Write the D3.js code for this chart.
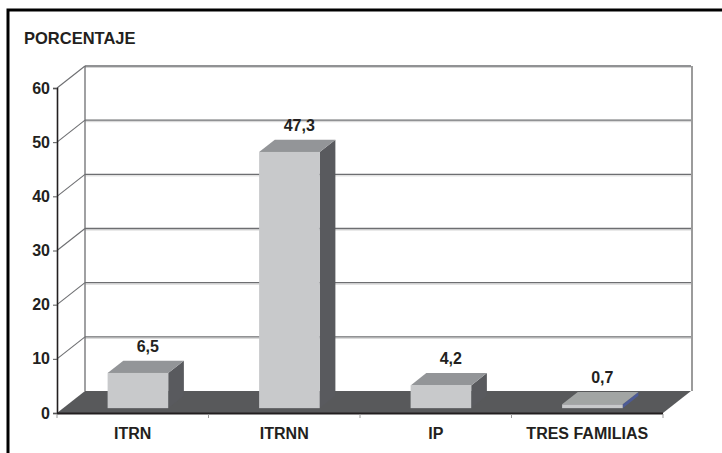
<!DOCTYPE html>
<html>
<head>
<meta charset="utf-8">
<script src="https://cdn.jsdelivr.net/npm/d3@7/dist/d3.min.js"></script>
<style>
  html, body { margin: 0; padding: 0; background: #ffffff; }
  svg { display: block; }
  text { font-family: "Liberation Sans", Arial, sans-serif; font-weight: bold; fill: #231f20; }
</style>
</head>
<body>
<svg id="chart" width="722" height="453"></svg>
<script>
// Chart data
const categories = ["ITRN", "ITRNN", "IP", "TRES FAMILIAS"];
const values = [6.5, 47.3, 4.2, 0.7];
const yTicks = [0, 10, 20, 30, 40, 50, 60];
const yTitle = "PORCENTAJE";

const svg = d3.select("#chart");
const fmt = v => v.toFixed(1).replace(".", ",");
const fontSize = 16;

// Front plane scales
const x = d3.scaleBand().domain(categories).range([57, 663]).paddingInner(0).paddingOuter(0);
const y = d3.scaleLinear().domain([0, 60]).range([413, 88]);

// 3D depth of the plot box and of the bars inside it
const depth = { dx: 28, dy: -22 };
const barFront = 0.22, barBack = 0.78;
const barWidth = x.bandwidth() * 0.4;

const colors = {
  front: "#c8c9cb", top: "#939598", side: "#595a5e", floor: "#58595b",
  grid: "#6d6e71", gridShade: "#d4d4d4"
};

// Outer frame
svg.append("rect")
  .attr("x", 8).attr("y", 10).attr("width", 800).attr("height", 500)
  .attr("fill", "none").attr("stroke", "#000").attr("stroke-width", 3);

// Axis title
svg.append("text").attr("x", 24).attr("y", 44)
  .attr("font-size", 16.5).text(yTitle);

const [x0, x1] = x.range();
const walls = svg.append("g");

// Gridlines on back wall and side wall
yTicks.filter(t => t > 0).forEach(t => {
  const yf = y(t), yb = y(t) + depth.dy;
  walls.append("line")
    .attr("x1", x0 + depth.dx).attr("x2", x1 + depth.dx)
    .attr("y1", yb + 1.5).attr("y2", yb + 1.5)
    .attr("stroke", colors.gridShade).attr("stroke-width", 1);
  walls.append("line")
    .attr("x1", x0 + depth.dx).attr("x2", x1 + depth.dx)
    .attr("y1", yb).attr("y2", yb)
    .attr("stroke", colors.grid).attr("stroke-width", 1.3);
  walls.append("line")
    .attr("x1", x0).attr("y1", yf)
    .attr("x2", x0 + depth.dx).attr("y2", yb)
    .attr("stroke", colors.grid).attr("stroke-width", 1.1);
});

// Back wall edges
walls.append("line")
  .attr("x1", x0 + depth.dx).attr("x2", x0 + depth.dx)
  .attr("y1", y(60) + depth.dy).attr("y2", y(0) + depth.dy)
  .attr("stroke", colors.grid).attr("stroke-width", 1.3);
walls.append("line")
  .attr("x1", x1 + depth.dx + 1).attr("x2", x1 + depth.dx + 1)
  .attr("y1", y(60) + depth.dy).attr("y2", y(0) + depth.dy)
  .attr("stroke", "#9b9b9b").attr("stroke-width", 2);

// Floor
const floorPts = [
  [x0, y(0)], [x1, y(0)],
  [x1 + depth.dx, y(0) + depth.dy], [x0 + depth.dx, y(0) + depth.dy]
];
svg.append("polygon")
  .attr("points", floorPts.map(p => p.join(",")).join(" "))
  .attr("fill", colors.floor);

// Bars
const bars = svg.append("g");
categories.forEach((c, i) => {
  const v = values[i];
  const fx = x(c) + (x.bandwidth() - barWidth) / 2 + depth.dx * barFront - 1;
  const fyTop = y(v) + depth.dy * barFront;
  const fyBot = y(0) + depth.dy * barFront;
  const ddx = depth.dx * (barBack - barFront), ddy = depth.dy * (barBack - barFront);
  const last = i === categories.length - 1;
  const sideColor = last ? "#4d5b96" : colors.side;
  const topColor = last ? "#a2a5a4" : colors.top;
  // right side
  bars.append("polygon")
    .attr("points", [
      [fx + barWidth, fyTop], [fx + barWidth + ddx, fyTop + ddy],
      [fx + barWidth + ddx, fyBot + ddy], [fx + barWidth, fyBot]
    ].map(p => p.join(",")).join(" "))
    .attr("fill", sideColor);
  // top
  bars.append("polygon")
    .attr("points", [
      [fx, fyTop], [fx + ddx, fyTop + ddy],
      [fx + barWidth + ddx, fyTop + ddy], [fx + barWidth, fyTop]
    ].map(p => p.join(",")).join(" "))
    .attr("fill", topColor);
  // front
  bars.append("rect")
    .attr("x", fx).attr("y", fyTop)
    .attr("width", barWidth).attr("height", fyBot - fyTop)
    .attr("fill", colors.front);
  // value label
  bars.append("text")
    .attr("x", fx + barWidth / 2 + ddx / 2 + 2)
    .attr("y", fyTop + ddy - 9)
    .attr("text-anchor", "middle")
    .attr("font-size", fontSize)
    .text(fmt(v));
});

// Left (value) axis
const yAxis = d3.axisLeft(y).tickValues(yTicks).tickSize(4).tickPadding(3);
const gy = svg.append("g").attr("transform", `translate(${x0},0)`).call(yAxis);
gy.select(".domain").attr("stroke", "#231f20").attr("stroke-width", 1.6);
gy.selectAll(".tick line").attr("stroke", "#555");
gy.selectAll(".tick text").attr("font-size", fontSize).attr("fill", "#231f20")
  .style("font-family", "'Liberation Sans', Arial, sans-serif").style("font-weight", "bold");

// Bottom (category) axis
const gx = svg.append("g");
gx.append("line")
  .attr("x1", x0).attr("x2", x1).attr("y1", y(0) + 0.5).attr("y2", y(0) + 0.5)
  .attr("stroke", "#231f20").attr("stroke-width", 1.8);
const bounds = categories.map(c => x(c)).concat([x1]);
gx.selectAll(".bt").data(bounds).join("line")
  .attr("x1", d => d).attr("x2", d => d)
  .attr("y1", y(0) + 1).attr("y2", y(0) + 5)
  .attr("stroke", "#999").attr("stroke-width", 1);
gx.selectAll(".cl").data(categories).join("text")
  .attr("x", d => x(d) + x.bandwidth() / 2)
  .attr("y", 439)
  .attr("text-anchor", "middle")
  .attr("font-size", fontSize)
  .text(d => d);
</script>
</body>
</html>
